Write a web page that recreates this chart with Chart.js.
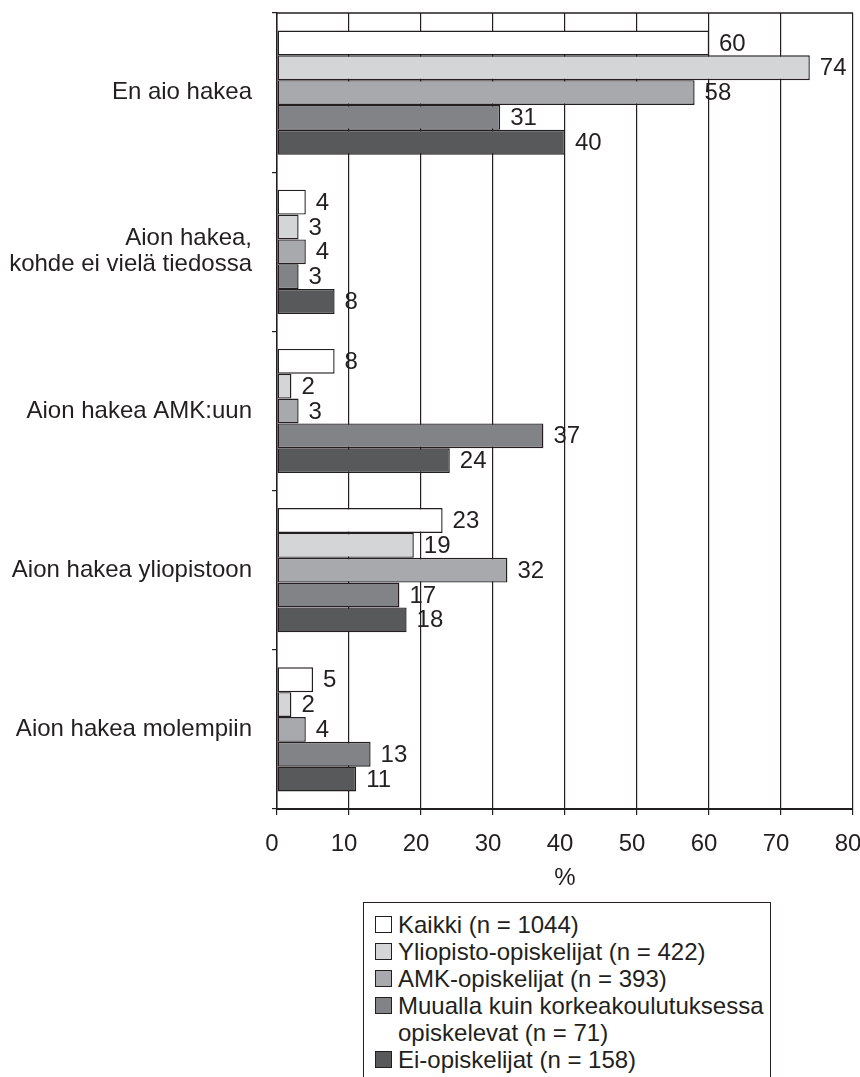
<!DOCTYPE html>
<html>
<head>
<meta charset="utf-8">
<script src="https://cdn.jsdelivr.net/npm/chart.js@4/dist/chart.umd.min.js"></script>
<style>
  html, body { margin: 0; padding: 0; background: #fff; overflow: hidden; width: 860px; height: 1077px; }
  #wrap { position: absolute; left: 0; top: 0; width: 860px; height: 899px; }
  #legend {
    position: absolute; left: 363px; top: 902px; width: 408px; height: 220px;
    box-sizing: border-box; border: 1.5px solid #231f20; padding: 8px 6px 0 10px;
    font-family: "Liberation Sans", Arial, sans-serif; font-size: 24px; line-height: 27px; color: #231f20;
  }
  .item { display: flex; align-items: flex-start; }
  .sw { flex: 0 0 auto; width: 15px; height: 15px; border: 1px solid #231f20; margin: 5px 6px 0 1px; box-sizing: content-box; }
</style>
</head>
<body>
<div id="wrap"><canvas id="c"></canvas></div>
<div id="legend"></div>
<script>
const categories = [
  'En aio hakea',
  ['Aion hakea,', 'kohde ei vielä tiedossa'],
  'Aion hakea AMK:uun',
  'Aion hakea yliopistoon',
  'Aion hakea molempiin'
];
const seriesNames = [
  'Kaikki (n = 1044)',
  'Yliopisto-opiskelijat (n = 422)',
  'AMK-opiskelijat (n = 393)',
  'Muualla kuin korkeakoulutuksessa opiskelevat (n = 71)',
  'Ei-opiskelijat (n = 158)'
];
const kaikki        = [60, 4, 8, 23, 5];
const yliopisto     = [74, 3, 2, 19, 2];
const amk           = [58, 4, 3, 32, 4];
const muualla       = [31, 3, 37, 17, 13];
const eiOpiskelijat = [40, 8, 24, 18, 11];
const xTickMin = 0, xTickMax = 80, xTickStep = 10;
const axisTitle = '%';

const seriesValues = [kaikki, yliopisto, amk, muualla, eiOpiskelijat];
const colors = ['#ffffff', '#d4d5d7', '#a8a9ac', '#828386', '#58595b'];
const ink = '#231f20';
const FONT = '"Liberation Sans", Arial, sans-serif';

const valueLabels = {
  id: 'valueLabels',
  afterDatasetsDraw(chart) {
    const ctx = chart.ctx;
    ctx.save();
    ctx.font = '24px ' + FONT;
    ctx.fillStyle = ink;
    ctx.textAlign = 'left';
    ctx.textBaseline = 'middle';
    chart.data.datasets.forEach((ds, i) => {
      const meta = chart.getDatasetMeta(i);
      meta.data.forEach((bar, j) => {
        ctx.fillText(String(ds.data[j]), bar.x + 10, bar.y + 1);
      });
    });
    ctx.restore();
  }
};
const topBorder = {
  id: 'topBorder',
  afterDraw(chart) {
    const a = chart.chartArea, ctx = chart.ctx;
    ctx.save();
    ctx.strokeStyle = ink;
    ctx.lineWidth = 1.5;
    ctx.beginPath();
    ctx.moveTo(a.left, a.top);
    ctx.lineTo(a.right, a.top);
    ctx.stroke();
    ctx.restore();
  }
};
function zeroPad(s) { s.paddingTop = 0; s.paddingBottom = 0; s.paddingLeft = 0; s.paddingRight = 0; }

new Chart(document.getElementById('c'), {
  type: 'bar',
  data: {
    labels: categories,
    datasets: seriesValues.map((vals, i) => ({
      label: seriesNames[i],
      data: vals,
      backgroundColor: colors[i],
      borderColor: ink,
      borderWidth: 1.4,
      borderSkipped: false,
      barPercentage: 1,
      categoryPercentage: 0.78
    }))
  },
  options: {
    indexAxis: 'y',
    responsive: true,
    maintainAspectRatio: false,
    devicePixelRatio: 1,
    animation: false,
    layout: { padding: { left: 0, right: 7, top: 13, bottom: 0 } },
    plugins: { legend: { display: false }, tooltip: { enabled: false } },
    scales: {
      x: {
        min: xTickMin, max: xTickMax,
        ticks: { stepSize: xTickStep, color: ink, font: { family: FONT, size: 24 }, padding: 15, labelOffset: -5 },
        grid: { color: ink, lineWidth: 1.2, tickLength: 6, drawOnChartArea: true },
        border: { color: ink, width: 2 },
        title: { display: true, text: axisTitle, color: ink, font: { family: FONT, size: 24 }, padding: { top: 0, bottom: 6 } },
        afterFit(s) { s.height = 90; zeroPad(s); }
      },
      y: {
        ticks: { color: ink, font: { family: FONT, size: 24, lineHeight: 1.08 }, padding: 20 },
        grid: { drawOnChartArea: false, color: ink, lineWidth: 1.2, tickLength: 5 },
        border: { color: ink, width: 1.5 },
        afterFit(s) { s.width = 277; zeroPad(s); }
      }
    }
  },
  plugins: [valueLabels, topBorder]
});

const legend = document.getElementById('legend');
seriesNames.forEach((name, i) => {
  const row = document.createElement('div');
  row.className = 'item';
  const sw = document.createElement('span');
  sw.className = 'sw';
  sw.style.background = colors[i];
  const tx = document.createElement('span');
  tx.textContent = name;
  row.appendChild(sw);
  row.appendChild(tx);
  legend.appendChild(row);
});
</script>
</body>
</html>
